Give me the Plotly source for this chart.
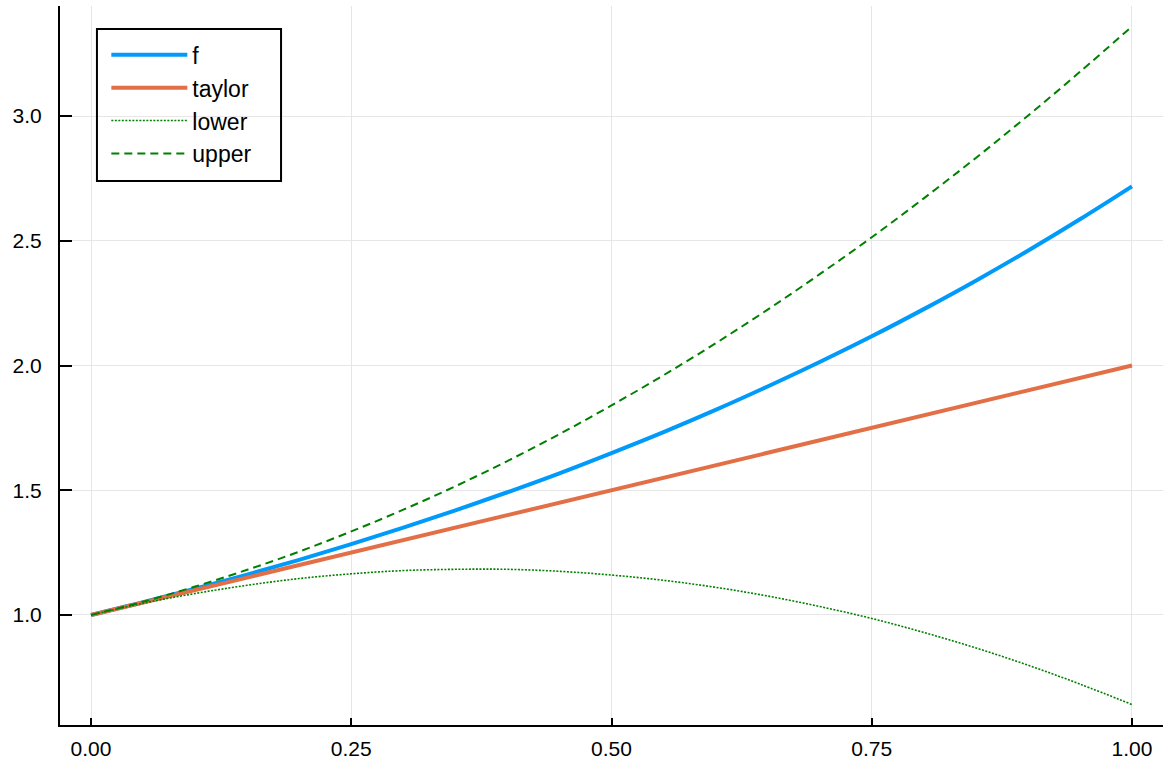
import plotly.graph_objects as go

x = [0.00, 0.05, 0.10, 0.15, 0.20, 0.25, 0.30, 0.35, 0.40, 0.45, 0.50,
     0.55, 0.60, 0.65, 0.70, 0.75, 0.80, 0.85, 0.90, 0.95, 1.00]
f_vals = [1.000, 1.051, 1.105, 1.162, 1.221, 1.284, 1.350, 1.419, 1.492, 1.568, 1.649,
          1.733, 1.822, 1.916, 2.014, 2.117, 2.226, 2.340, 2.460, 2.586, 2.718]
taylor_vals = [1.00, 1.05, 1.10, 1.15, 1.20, 1.25, 1.30, 1.35, 1.40, 1.45, 1.50,
               1.55, 1.60, 1.65, 1.70, 1.75, 1.80, 1.85, 1.90, 1.95, 2.00]
lower_vals = [1.000, 1.047, 1.086, 1.119, 1.146, 1.165, 1.178, 1.183, 1.183, 1.175, 1.160,
              1.139, 1.111, 1.076, 1.034, 0.986, 0.930, 0.868, 0.799, 0.723, 0.641]
upper_vals = [1.000, 1.053, 1.114, 1.181, 1.254, 1.335, 1.422, 1.516, 1.617, 1.725, 1.840,
              1.961, 2.089, 2.224, 2.366, 2.514, 2.670, 2.832, 3.001, 3.177, 3.359]

x_ticks = [0.00, 0.25, 0.50, 0.75, 1.00]
x_tick_labels = ["0.00", "0.25", "0.50", "0.75", "1.00"]
y_ticks = [1.0, 1.5, 2.0, 2.5, 3.0]
y_tick_labels = ["1.0", "1.5", "2.0", "2.5", "3.0"]

font = "Liberation Sans, Arial, sans-serif"

fig = go.Figure()
fig.add_trace(go.Scatter(x=x, y=f_vals, name="f", mode="lines", line_shape="spline",
                         line=dict(color="#009AFA", width=4)))
fig.add_trace(go.Scatter(x=x, y=taylor_vals, name="taylor", mode="lines",
                         line=dict(color="#E26F46", width=4)))
fig.add_trace(go.Scatter(x=x, y=lower_vals, name="lower", mode="lines", line_shape="spline",
                         line=dict(color="#008000", width=1.6, dash="2px,1.5px")))
fig.add_trace(go.Scatter(x=x, y=upper_vals, name="upper", mode="lines", line_shape="spline",
                         line=dict(color="#008000", width=2, dash="8px,5px")))

# legend frame (decoration in paper coordinates)
fig.add_shape(type="rect", xref="paper", yref="paper",
              x0=0.0335, x1=0.2004, y0=0.7566, y1=0.968,
              line=dict(color="black", width=2), fillcolor="rgba(0,0,0,0)", layer="above")

fig.update_layout(
    width=1168, height=761,
    margin=dict(l=60, r=5, t=6, b=36, autoexpand=False),
    plot_bgcolor="white", paper_bgcolor="white",
    font=dict(family=font, size=21, color="black"),
    showlegend=True,
    legend=dict(x=0.042, y=0.962, xanchor="left", yanchor="top",
                borderwidth=0, bgcolor="rgba(0,0,0,0)",
                font=dict(family=font, size=23, color="black"),
                tracegroupgap=0, itemwidth=76),
    xaxis=dict(range=[-0.0298, 1.0298], tickvals=x_ticks, ticktext=x_tick_labels,
               showgrid=True, gridcolor="#e6e6e6", gridwidth=1, zeroline=False,
               showline=True, linecolor="black", linewidth=2, mirror=False,
               ticks="inside", ticklen=7, tickwidth=2, tickcolor="black",
               ticklabelstandoff=4, automargin=False),
    yaxis=dict(range=[0.559, 3.441], tickvals=y_ticks, ticktext=y_tick_labels,
               showgrid=True, gridcolor="#e6e6e6", gridwidth=1, zeroline=False,
               showline=True, linecolor="black", linewidth=2, mirror=False,
               ticks="inside", ticklen=12, tickwidth=2, tickcolor="black",
               ticklabelstandoff=12, automargin=False),
)

fig.write_html("out.html", config={"displayModeBar": False},
               post_script="document.body.style.margin='0';document.body.style.overflow='hidden';")
